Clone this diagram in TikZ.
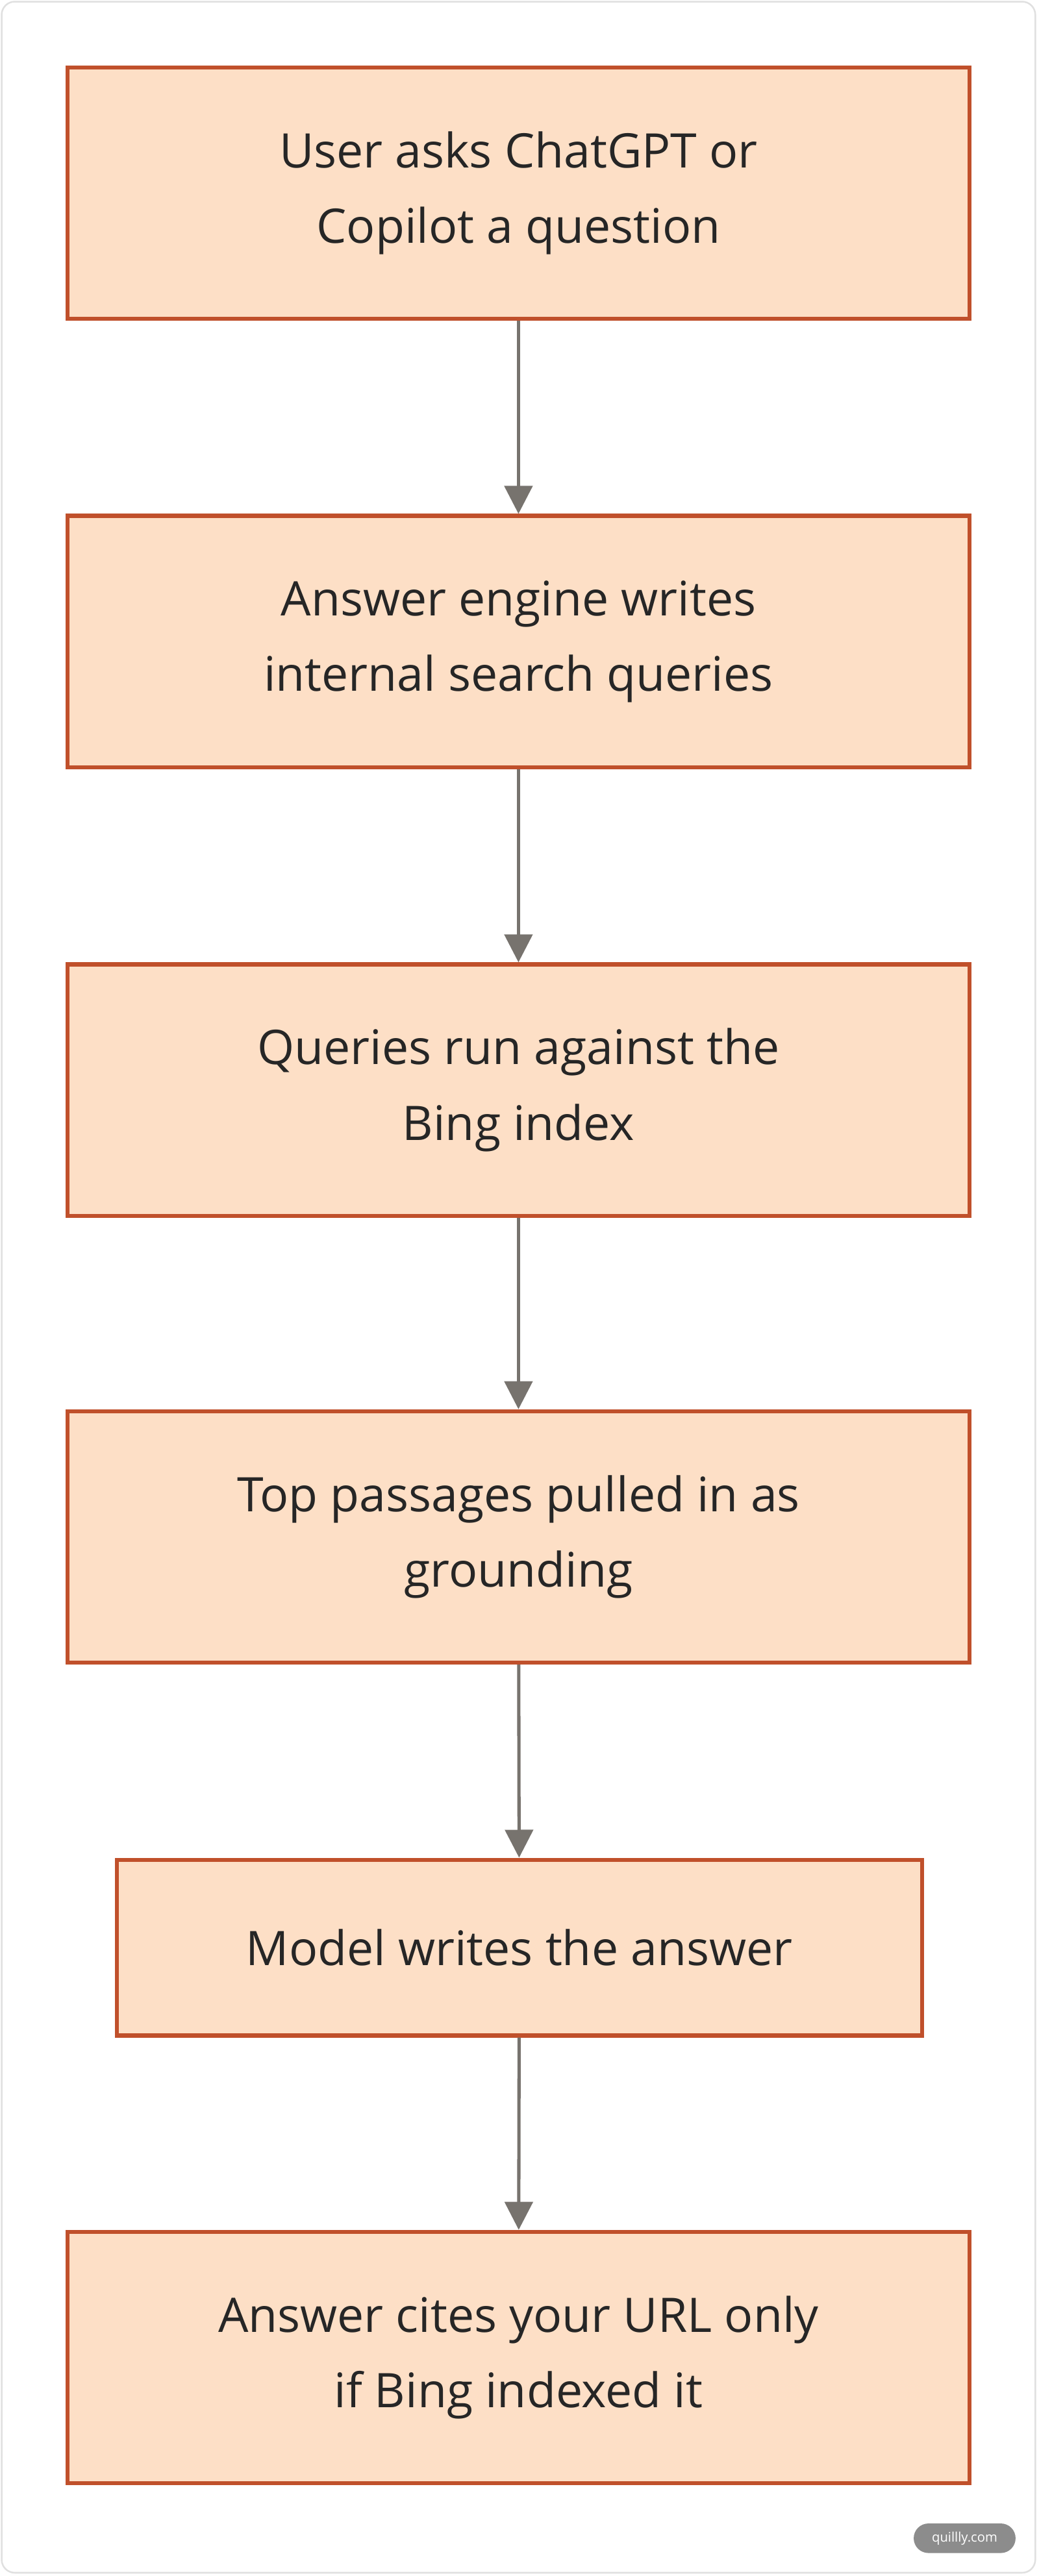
\documentclass[tikz,border=0pt]{standalone}
\usepackage{fontspec}
\setmainfont{Open Sans}
\usetikzlibrary{arrows.meta}
\definecolor{boxfill}{HTML}{FDDFC6}
\definecolor{boxline}{HTML}{C0502B}
\definecolor{arr}{HTML}{77736E}
\begin{document}
\begin{tikzpicture}[x=1pt,y=-1pt,
  box/.style={draw=boxline,line width=2.5pt,fill=boxfill,align=center,font=\fontsize{29}{46}\selectfont,text=black!85,inner sep=0pt},
  link/.style={draw=arr,line width=2pt,-{Triangle[length=17pt,width=17pt]}}]
\useasboundingbox (0,0) rectangle (632,1568);
\draw[black!12,line width=1pt,rounded corners=8pt,fill=white] (1,1) rectangle (630,1566);
\node[box,minimum width=549pt,minimum height=153pt] (a) at (315.5,117.5) {User asks ChatGPT or\\Copilot a question};
\node[box,minimum width=549pt,minimum height=153pt] (b) at (315.5,390.5) {Answer engine writes\\internal search queries};
\node[box,minimum width=549pt,minimum height=153pt] (c) at (315.5,663.5) {Queries run against the\\Bing index};
\node[box,minimum width=549pt,minimum height=153pt] (d) at (315.5,935.5) {Top passages pulled in as\\grounding};
\node[box,minimum width=490pt,minimum height=107pt] (e) at (316,1185.5) {Model writes the answer};
\node[box,minimum width=549pt,minimum height=153pt] (f) at (315.5,1435) {Answer cites your URL only\\if Bing indexed it};
\draw[link] (a) -- (b);
\draw[link] (b) -- (c);
\draw[link] (c) -- (d);
\draw[link] (d) -- (e);
\draw[link] (e) -- (f);
\node[fill=black!45,text=white,rounded corners=9pt,font=\fontsize{8}{10}\selectfont,minimum width=62pt,minimum height=18pt] (q) at (587,1545) {quillly.com};
\end{tikzpicture}
\end{document}
